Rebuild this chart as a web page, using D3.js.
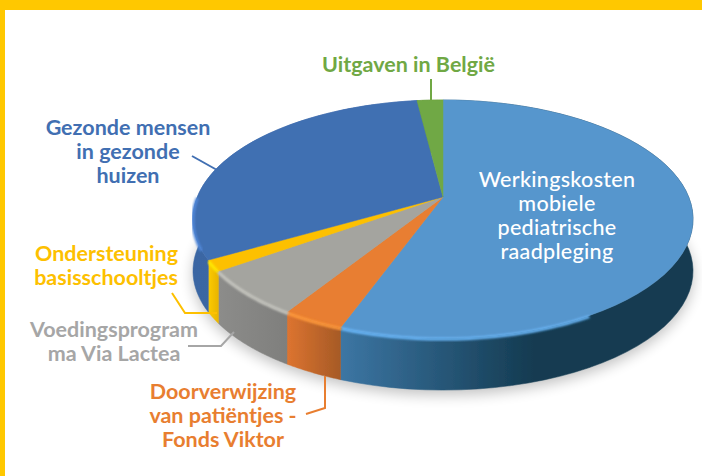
<!DOCTYPE html>
<html><head><meta charset="utf-8">
<script src="https://cdn.jsdelivr.net/npm/d3@7"></script>
<style>html,body{margin:0;padding:0;background:#fff}svg{display:block}text{font-family:Lato,sans-serif;text-anchor:middle}</style>
</head><body><div id="c"></div>
<script>
const categories=["Werkingskosten mobiele pediatrische raadpleging","Doorverwijzing van patiëntjes - Fonds Viktor","Voedingsprogramma Via Lactea","Ondersteuning basisschooltjes","Gezonde mensen in gezonde huizen","Uitgaven in België"];
const values=[55.6,3.4,6.2,1.5,31.3,2.0];
const topColors=["#5796cd","#e87e30","#a4a49f","#fdc000","#416fb2","#70a844"];
const wallStart=["#3d77a5","#dd7430","#8c8c8a","#fccb00","#3a66a3","#5e8f38"];
const wallEnd=["#143b51","#a65a26","#7f7f7d","#e8b400","#3f6ca8","#5e8f38"];
const labelColors=["#ffffff","#e87e30","#a6a6a6","#fdc000","#416fb2","#70a844"];
const labelLines=[["Werkingskosten","mobiele","pediatrische","raadpleging"],["Doorverwijzing","van patiëntjes -","Fonds Viktor"],["Voedingsprogram","ma Via Lactea"],["Ondersteuning","basisschooltjes"],["Gezonde mensen","in gezonde","huizen"],["Uitgaven in België"]];
const labelX=[557,223,114,178,128,408.5];
const labelY=[187,399,337,261,135,72];
const labelWeight=[500,700,700,700,700,700];
const labelSpacing=[0.3,0,0,0,0,0];
const labelSize=21.5;
const leaders=[null,[[306,414],[325,408],[325,376]],[[188,346],[221,346],[234,332]],[[172,293],[185,313],[217,313]],[[192,156],[217,170]],[[431,79],[431,101]]];
const rimDegrees=[[150,200],[200,212],[212,235],[235,240],[245,270],null];

const W=702,H=476,cx=443,cy=197,R=245.7,K=115,P=0.185,depth=52;
const svg=d3.select("#c").append("svg").attr("width",W).attr("height",H);
svg.append("rect").attr("width",W).attr("height",H).attr("fill","#fff");
const defs=svg.append("defs");
defs.append("filter").attr("id","sh").attr("x","-20%").attr("y","-20%").attr("width","140%").attr("height","140%")
  .append("feGaussianBlur").attr("stdDeviation",7);
defs.append("filter").attr("id","soft").append("feGaussianBlur").attr("stdDeviation",1.1);
defs.append("filter").attr("id","edge").attr("x","-5%").attr("y","-5%").attr("width","110%").attr("height","110%")
  .append("feGaussianBlur").attr("stdDeviation",0.55);

const proj=(a,r=1,dz=0)=>{const u=Math.sin(a)*r,v=-Math.cos(a)*r,d=1-P*v;return [cx+R*u/d,cy+K*v/d+dz];};
const line=d3.line();
const pie=d3.pie().sort(null).value(d=>d)(values);
const arcPts=(s,dz=0,r=1)=>d3.range(0,61).map(i=>proj(s.startAngle+(s.endAngle-s.startAngle)*i/60,r,dz));
const color=d3.scaleOrdinal(d3.range(values.length),topColors);
const rad=d3.scaleLinear().domain([0,360]).range([0,2*Math.PI]);

// soft shadow under the disc
const ring=d3.range(0,121).map(i=>proj(i/120*2*Math.PI,1,depth+5));
svg.append("path").attr("d",line(ring)+"Z").attr("fill","#000").attr("opacity",.24).attr("filter","url(#sh)");

const disc=svg.append("g").attr("filter","url(#edge)");
// walls
pie.forEach((s,i)=>{
  const t=arcPts(s),b=arcPts(s,depth).reverse();
  const g=defs.append("linearGradient").attr("id","w"+i).attr("gradientUnits","userSpaceOnUse");
  const xs=t.map(p=>p[0]);
  if(i===0)g.attr("x1",cx-106).attr("x2",cx+90);
  else g.attr("x1",d3.min(xs)).attr("x2",d3.max(xs));
  g.attr("y1",0).attr("y2",0);
  g.append("stop").attr("offset",0).attr("stop-color",wallStart[i]);
  g.append("stop").attr("offset",1).attr("stop-color",wallEnd[i]);
  disc.append("path").attr("d",line(t.concat(b))+"Z").attr("fill",`url(#w${i})`).attr("stroke",`url(#w${i})`).attr("stroke-width",.5);
});
// top faces
pie.forEach((s,i)=>{
  disc.append("path").attr("d",line([proj(0,0)].concat(arcPts(s)))+"Z").attr("fill",color(i)).attr("stroke",color(i)).attr("stroke-width",.5);
});
// bevel on the front rim only
pie.forEach((s,i)=>{
  if(!rimDegrees[i])return;
  const [a,b]=rimDegrees[i].map(rad);
  const pts=d3.range(0,41).map(k=>proj(a+(b-a)*k/40,1,1));
  disc.append("path").attr("d",line(pts)).attr("fill","none").attr("stroke",d3.color(color(i)).brighter(.55)).attr("stroke-width",3).attr("filter","url(#soft)");
});

// labels
categories.forEach((c,i)=>{
  const t=svg.append("text").attr("fill",labelColors[i]).attr("font-size",labelSize).attr("font-weight",labelWeight[i]).attr("letter-spacing",labelSpacing[i]);
  if(i===3)t.style("text-anchor","end");
  labelLines[i].forEach((l,j)=>t.append("tspan").attr("x",labelX[i]).attr("y",labelY[i]+j*24).text(l));
  if(leaders[i])svg.append("path").attr("d",line(leaders[i])).attr("fill","none").attr("stroke",labelColors[i]).attr("stroke-width",2);
});

// yellow frame
svg.append("rect").attr("width",W).attr("height",10).attr("fill","#ffc800");
svg.append("rect").attr("width",5).attr("height",H).attr("fill","#ffc800");
</script></body></html>
